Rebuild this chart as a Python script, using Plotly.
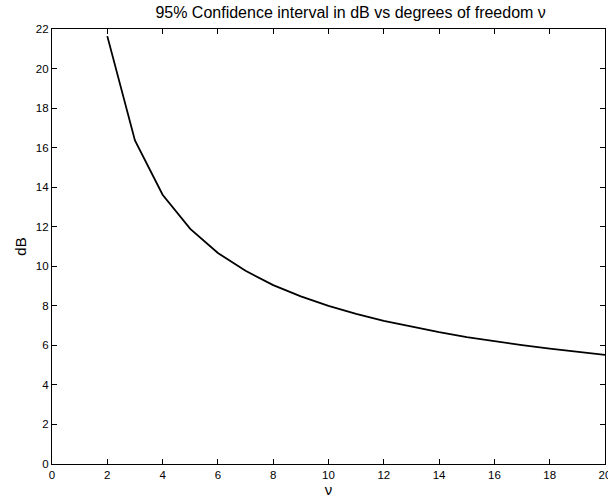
import plotly.graph_objects as go

nu = [2, 3, 4, 5, 6, 7, 8, 9, 10, 11, 12, 13, 14, 15, 16, 17, 18, 19, 20]
db = [21.64, 16.36, 13.62, 11.89, 10.67, 9.77, 9.05, 8.48, 8.00, 7.59,
      7.24, 6.94, 6.67, 6.42, 6.21, 6.01, 5.83, 5.67, 5.52]

font = "Liberation Sans, Arial, Helvetica, sans-serif"

fig = go.Figure(go.Scatter(x=nu, y=db, mode="lines",
                           line=dict(color="black", width=1.8)))

axis_common = dict(showline=True, linecolor="black", linewidth=1.2,
                   mirror="ticks", ticks="inside", ticklen=5, tickwidth=1,
                   tickcolor="black", showgrid=False, zeroline=False,
                   ticklabeloverflow="allow", automargin=False,
                   tickfont=dict(family=font, size=11.5, color="black"))

fig.update_xaxes(range=[0, 20], dtick=2, tick0=0,
                 title=dict(text="ν", font=dict(family=font, size=15, color="black"), standoff=4),
                 **axis_common)
fig.update_yaxes(range=[0, 22], dtick=2, tick0=0,
                 title=dict(text="dB", font=dict(family=font, size=15, color="black"), standoff=5),
                 **axis_common)

fig.update_layout(
    width=608, height=502,
    margin=dict(l=52, r=3, t=29, b=38, autoexpand=False),
    paper_bgcolor="white", plot_bgcolor="white",
    showlegend=False,
    title=dict(text="95% Confidence interval in dB vs degrees of freedom ν",
               font=dict(family=font, size=16, color="black"),
               xref="paper", x=0.54, xanchor="center", y=0.976, yanchor="middle"),
)

fig.write_html("out.html")
